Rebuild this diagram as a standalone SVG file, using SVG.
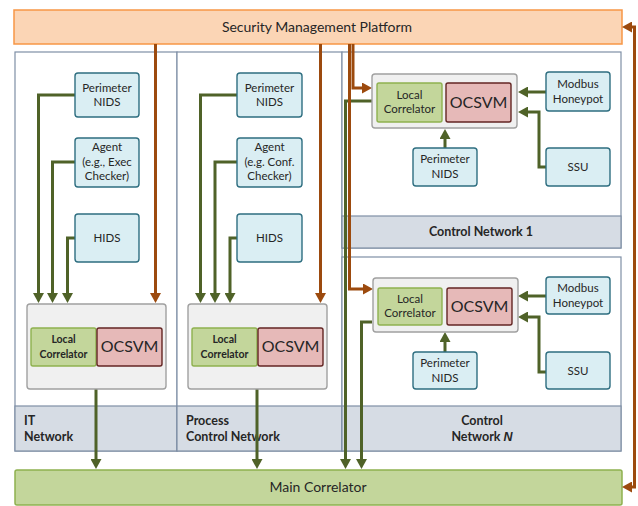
<svg xmlns="http://www.w3.org/2000/svg" width="638" height="506" viewBox="0 0 638 506">
<defs>
<style>
text{font-family:Lato,"Liberation Sans",sans-serif;fill:#262626;text-anchor:middle}
.panel{fill:#fff;stroke:#7f8fa6;stroke-width:1.2}
.band{fill:#d6dce4;stroke:#7f8fa6;stroke-width:1.2}
.sensor{fill:#daeef3;stroke:#2e6e80;stroke-width:1.4}
.gbox{fill:#f0f0f0;stroke:#a0a0a0;stroke-width:1.4}
.lc{fill:#c3d69b;stroke:#8eb14f;stroke-width:1.4}
.oc{fill:#e6b9b8;stroke:#632523;stroke-width:1.4}
.st{font-size:11.5px}
.bl{font-size:12.5px;font-weight:bold}
.lcb{font-size:10.5px;font-weight:bold}
.ocs{font-size:16px}
.g{fill:none;stroke:#4f6228;stroke-width:3}
.o{fill:none;stroke:#9c4a0e;stroke-width:3}
</style>
<marker id="ag" viewBox="0 0 10 11" markerWidth="10" markerHeight="11" refX="0" refY="5.5" orient="auto-start-reverse" markerUnits="userSpaceOnUse"><path d="M0,0 L10,5.5 L0,11 Z" fill="#4f6228"/></marker>
<marker id="ao" viewBox="0 0 10 11" markerWidth="10" markerHeight="11" refX="0" refY="5.5" orient="auto-start-reverse" markerUnits="userSpaceOnUse"><path d="M0,0 L10,5.5 L0,11 Z" fill="#9c4a0e"/></marker>
</defs>
<rect width="638" height="506" fill="#fff"/>

<g id="it-network">
<rect class="panel" x="15" y="52" width="162" height="399"/>
<rect class="band" x="15" y="406" width="162" height="45"/>
<text class="bl" x="24" y="425" style="text-anchor:start">IT</text>
<text class="bl" x="24" y="441" style="text-anchor:start">Network</text>
</g>
<g id="process-control-network">
<rect class="panel" x="177" y="52" width="165" height="399"/>
<rect class="band" x="177" y="406" width="165" height="45"/>
<text class="bl" x="186" y="425" style="text-anchor:start">Process</text>
<text class="bl" x="186" y="441" style="text-anchor:start">Control Network</text>
</g>
<g id="control-network-1">
<rect class="panel" x="342" y="52" width="279" height="196"/>
<rect class="band" x="342" y="216" width="279" height="32"/>
<text class="bl" x="481" y="236">Control Network 1</text>
</g>
<g id="control-network-n">
<rect class="panel" x="342" y="257" width="279" height="194"/>
<rect class="band" x="342" y="406" width="279" height="45"/>
<text class="bl" x="482" y="425">Control</text>
<text class="bl" x="482" y="441">Network <tspan font-family="'Liberation Sans',sans-serif" font-style="italic">N</tspan></text>
</g>

<g id="security-management-platform">
<rect x="14" y="10" width="608" height="34" fill="#fbd5b5" stroke="#f79646" stroke-width="1.5"/>
<text x="317" y="32" font-size="14">Security Management Platform</text>
</g>
<g id="main-correlator">
<rect x="15" y="470" width="607" height="35" rx="2" fill="#c3d69b" stroke="#8eb14f" stroke-width="1.5"/>
<text x="318" y="492" font-size="14">Main Correlator</text>
</g>

<g id="connectors">
<path class="g" d="M75 95 H38.5 V293" marker-end="url(#ag)"/>
<path class="g" d="M75 162 H52.5 V293" marker-end="url(#ag)"/>
<path class="g" d="M75 238 H67.5 V293" marker-end="url(#ag)"/>
<path class="g" d="M96 389 V459" marker-end="url(#ag)"/>
<path class="g" d="M237 95 H200.5 V293" marker-end="url(#ag)"/>
<path class="g" d="M237 162 H215 V293" marker-end="url(#ag)"/>
<path class="g" d="M237 238 H230 V293" marker-end="url(#ag)"/>
<path class="g" d="M257 389 V459" marker-end="url(#ag)"/>
<path class="g" d="M546 92 H528" marker-end="url(#ag)"/>
<path class="g" d="M546 167 H539 V112 H528" marker-end="url(#ag)"/>
<path class="g" d="M445 148 V139" marker-end="url(#ag)"/>
<path class="g" d="M372 101 H345.5 V459" marker-end="url(#ag)"/>
<path class="g" d="M546 296 H528" marker-end="url(#ag)"/>
<path class="g" d="M546 372 H539 V317 H528" marker-end="url(#ag)"/>
<path class="g" d="M445 352 V342" marker-end="url(#ag)"/>
<path class="g" d="M372 322 H361.5 V459" marker-end="url(#ag)"/>
<path class="o" d="M155.5 44 V293" marker-end="url(#ao)"/>
<path class="o" d="M320.5 44 V293" marker-end="url(#ao)"/>
<path class="o" d="M353 44 V88 H362" marker-end="url(#ao)"/>
<path class="o" d="M349.5 44 V289 H363" marker-end="url(#ao)"/>
<path class="o" d="M632 27 H634.5 V487 H632" marker-start="url(#ao)" marker-end="url(#ao)"/>
</g>

<g id="it-perimeter-nids"><rect class="sensor" x="75" y="73" width="64" height="44" rx="3"/><text class="st" x="107" y="92">Perimeter</text><text class="st" x="107" y="106">NIDS</text></g>
<g id="it-agent"><rect class="sensor" x="75" y="138" width="64" height="49" rx="3"/><text class="st" x="107" y="151">Agent</text><text class="st" x="107" y="166">(e.g., Exec</text><text class="st" x="107" y="180">Checker)</text></g>
<g id="it-hids"><rect class="sensor" x="75" y="214" width="64" height="48" rx="3"/><text class="st" x="107" y="242">HIDS</text></g>
<g id="it-correlator">
<rect class="gbox" x="27" y="304" width="139" height="85" rx="3"/>
<rect class="lc" x="31" y="328" width="65" height="38" rx="2"/>
<text class="lcb" x="63.5" y="343">Local</text><text class="lcb" x="63.5" y="358">Correlator</text>
<rect class="oc" x="97" y="328" width="65" height="38" rx="2"/>
<text class="ocs" x="129.5" y="352">OCSVM</text>
</g>

<g id="pcn-perimeter-nids"><rect class="sensor" x="237" y="73" width="65" height="44" rx="3"/><text class="st" x="269.5" y="92">Perimeter</text><text class="st" x="269.5" y="106">NIDS</text></g>
<g id="pcn-agent"><rect class="sensor" x="237" y="138" width="65" height="49" rx="3"/><text class="st" x="269.5" y="151">Agent</text><text class="st" x="269.5" y="166">(e.g. Conf.</text><text class="st" x="269.5" y="180">Checker)</text></g>
<g id="pcn-hids"><rect class="sensor" x="237" y="214" width="65" height="48" rx="3"/><text class="st" x="269.5" y="242">HIDS</text></g>
<g id="pcn-correlator">
<rect class="gbox" x="188" y="304" width="139" height="85" rx="3"/>
<rect class="lc" x="192" y="328" width="65" height="38" rx="2"/>
<text class="lcb" x="224.5" y="343">Local</text><text class="lcb" x="224.5" y="358">Correlator</text>
<rect class="oc" x="258" y="328" width="65" height="38" rx="2"/>
<text class="ocs" x="290.5" y="352">OCSVM</text>
</g>

<g id="cn1-correlator">
<rect class="gbox" x="372" y="74" width="145" height="54" rx="3"/>
<rect class="lc" x="377" y="83" width="65" height="39" rx="2"/>
<text class="st" x="409.5" y="99">Local</text><text class="st" x="409.5" y="113">Correlator</text>
<rect class="oc" x="446" y="83" width="65" height="39" rx="2"/>
<text class="ocs" x="478.5" y="108">OCSVM</text>
</g>
<g id="cn1-modbus-honeypot"><rect class="sensor" x="546" y="72" width="64" height="39" rx="3"/><text class="st" x="578" y="88">Modbus</text><text class="st" x="578" y="103">Honeypot</text></g>
<g id="cn1-ssu"><rect class="sensor" x="546" y="148" width="64" height="38" rx="3"/><text class="st" x="578" y="171">SSU</text></g>
<g id="cn1-perimeter-nids"><rect class="sensor" x="413" y="148" width="64" height="38" rx="3"/><text class="st" x="445" y="163">Perimeter</text><text class="st" x="445" y="178">NIDS</text></g>

<g id="cnn-correlator">
<rect class="gbox" x="373" y="278" width="145" height="54" rx="3"/>
<rect class="lc" x="378" y="288" width="64" height="37" rx="2"/>
<text class="st" x="410" y="303">Local</text><text class="st" x="410" y="317">Correlator</text>
<rect class="oc" x="447" y="288" width="65" height="37" rx="2"/>
<text class="ocs" x="479.5" y="312">OCSVM</text>
</g>
<g id="cnn-modbus-honeypot"><rect class="sensor" x="546" y="277" width="64" height="37" rx="3"/><text class="st" x="578" y="292">Modbus</text><text class="st" x="578" y="307">Honeypot</text></g>
<g id="cnn-ssu"><rect class="sensor" x="546" y="352" width="64" height="37" rx="3"/><text class="st" x="578" y="375">SSU</text></g>
<g id="cnn-perimeter-nids"><rect class="sensor" x="413" y="352" width="64" height="37" rx="3"/><text class="st" x="445" y="367">Perimeter</text><text class="st" x="445" y="382">NIDS</text></g>
</svg>
